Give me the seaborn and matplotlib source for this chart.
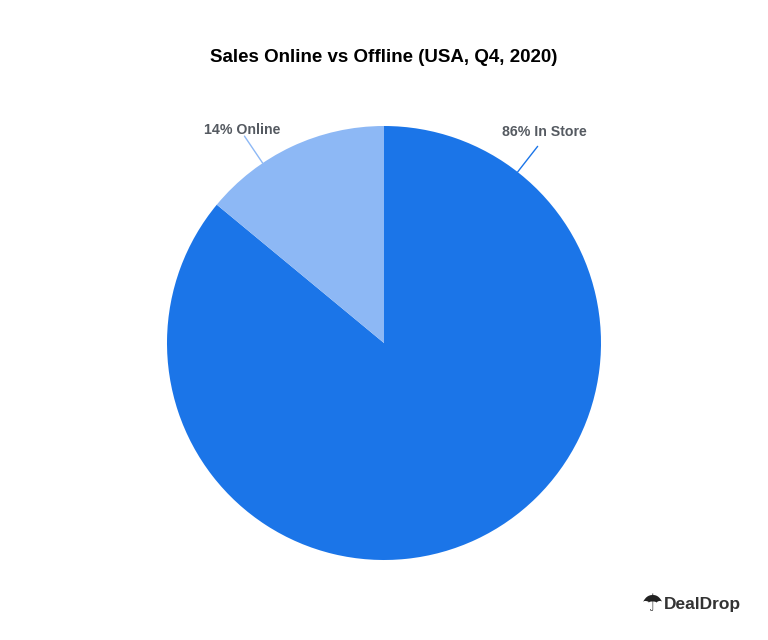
import matplotlib
matplotlib.use("Agg")
import matplotlib.pyplot as plt
import numpy as np
import seaborn as sns

sns.set_theme(style="white")

labels = ["In Store", "Online"]
shares = [86, 14]
colors = ["#1b75e8", "#8db8f5"]
# angle (degrees) where each label's leader line leaves the pie
label_angles = [52, 124]

fig = plt.figure(figsize=(7.68, 6.40), dpi=100)
# pie centre (384, 343) px, radius ~217 px
R = 217
ax = fig.add_axes([(384 - R) / 768, 1 - (343 + R) / 640, 2 * R / 768, 2 * R / 640])
ax.pie(shares, colors=colors, startangle=90, counterclock=False,
       wedgeprops=dict(linewidth=0))
ax.set_xlim(-1, 1); ax.set_ylim(-1, 1)
ax.set_aspect("equal")
ax.axis("off")

for lab, s, deg, c in zip(labels, shares, label_angles, colors):
    a = np.deg2rad(deg)
    x0, y0 = np.cos(a), np.sin(a)
    x1, y1 = 1.15 * x0, 1.15 * y0
    right = x0 > 0
    dx, dy = (-0.165, 0.065) if right else (0.165, 0.03)
    ax.plot([x0, x1], [y0, y1], color=c, lw=1, clip_on=False)
    ax.text(x1 + dx, y1 + dy, f"{s}% {lab}",
            ha="left" if right else "right", va="center",
            fontsize=10.2, fontweight="bold", color="#555a61", family="Liberation Sans")

fig.text(0.5, 1 - 58 / 640, "Sales Online vs Offline (USA, Q4, 2020)", ha="center", va="center",
         fontsize=13.5, fontweight="bold", color="black", family="Liberation Sans")
fig.text(664 / 768, 1 - 604 / 640, "DealDrop", ha="left", va="center",
         fontsize=12.5, fontweight="bold", color="#333333", family="Liberation Sans")
fig.text(652 / 768, 1 - 604 / 640, "\u2602", ha="center", va="center", fontsize=17, color="#222222",
         family="DejaVu Sans")

fig.savefig("out.png", dpi=100)
